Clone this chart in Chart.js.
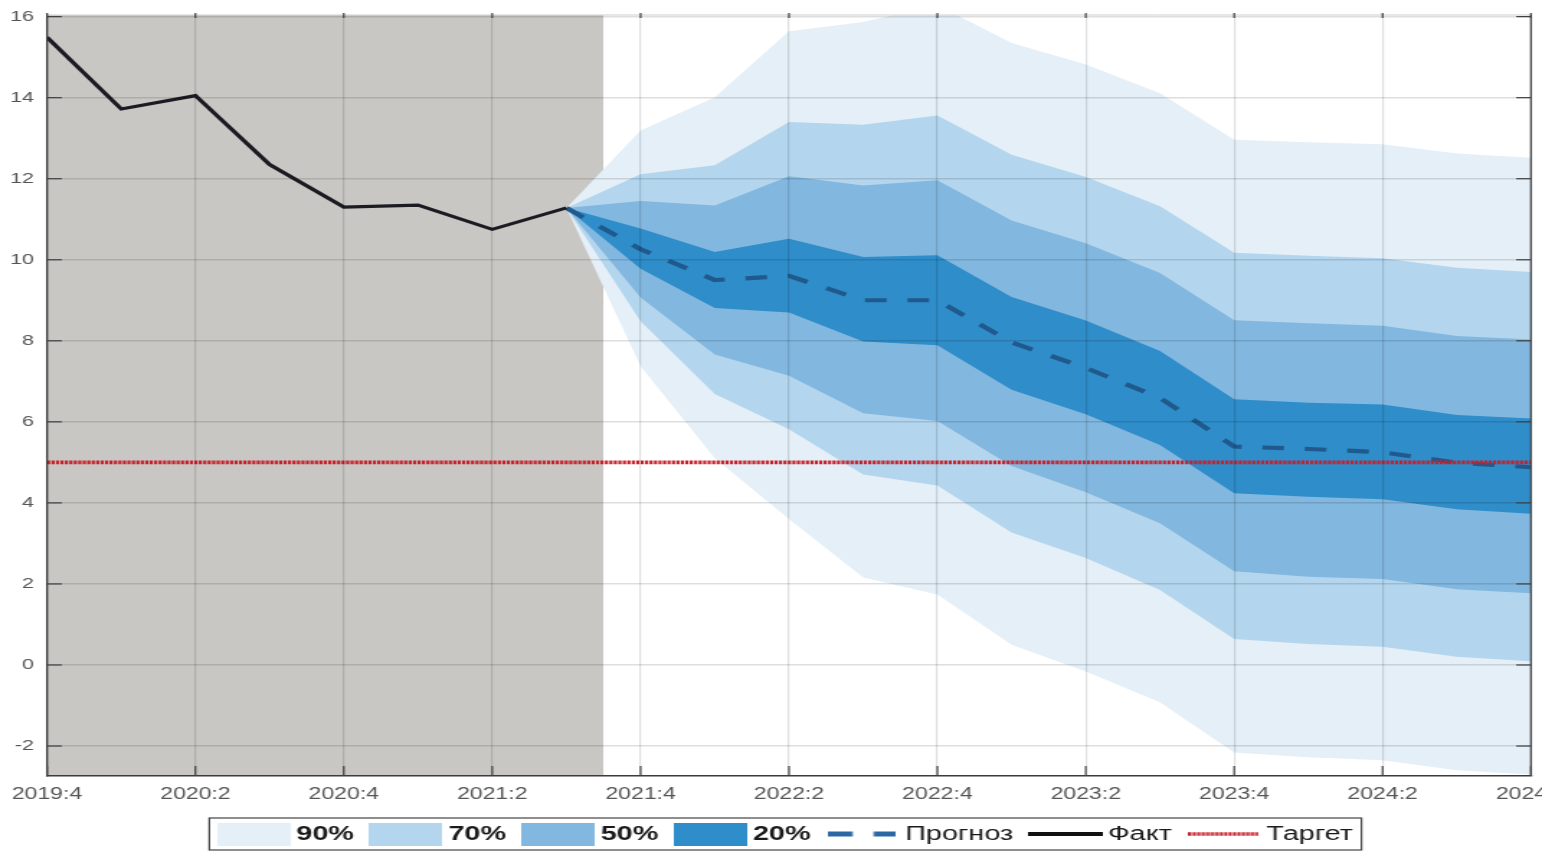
<!DOCTYPE html>
<html>
<head>
<meta charset="utf-8">
<script src="https://cdn.jsdelivr.net/npm/chart.js@4"></script>
<style>
html,body{margin:0;padding:0;background:#fff;overflow:hidden;}
#c{display:block;width:1542px !important;height:851px !important;}
</style>
</head>
<body>
<canvas id="c" width="1071" height="851" style="width:1542px;height:851px;"></canvas>
<script>
// ---------- DATA ----------
const quarters = ['2019:4','2020:1','2020:2','2020:3','2020:4','2021:1','2021:2','2021:3',
  '2021:4','2022:1','2022:2','2022:3','2022:4','2023:1','2023:2','2023:3','2023:4',
  '2024:1','2024:2','2024:3','2024:4'];

const factStart = 0;           // index of 2019:4
const fact = [15.49, 13.72, 14.05, 12.35, 11.30, 11.35, 10.75, 11.28];

const forecastStart = 7;       // index of 2021:3
const forecast = [11.28, 10.26, 9.50, 9.60, 9.00, 9.00, 7.96, 7.33, 6.59, 5.39, 5.33, 5.25, 4.99, 4.88];

const band90Upper = [11.28, 13.19, 14.01, 15.64, 15.87, 16.28, 15.35, 14.82, 14.11, 12.96, 12.90, 12.85, 12.62, 12.52];
const band70Upper = [11.28, 12.11, 12.33, 13.40, 13.33, 13.56, 12.59, 12.04, 11.32, 10.17, 10.10, 10.04, 9.80, 9.70];
const band50Upper = [11.28, 11.45, 11.34, 12.06, 11.83, 11.96, 10.97, 10.41, 9.67, 8.51, 8.43, 8.37, 8.12, 8.03];
const band20Upper = [11.28, 10.77, 10.19, 10.52, 10.07, 10.11, 9.08, 8.50, 7.75, 6.56, 6.47, 6.43, 6.17, 6.08];
const band20Lower = [11.28, 9.78, 8.81, 8.70, 7.98, 7.89, 6.79, 6.19, 5.43, 4.24, 4.15, 4.09, 3.84, 3.73];
const band50Lower = [11.28, 9.07, 7.66, 7.14, 6.21, 6.02, 4.91, 4.26, 3.50, 2.31, 2.18, 2.12, 1.87, 1.77];
const band70Lower = [11.28, 8.48, 6.69, 5.82, 4.70, 4.43, 3.27, 2.64, 1.85, 0.64, 0.52, 0.45, 0.20, 0.09];
const band90Lower = [11.28, 7.37, 5.10, 3.60, 2.16, 1.74, 0.50, -0.16, -0.92, -2.16, -2.28, -2.35, -2.60, -2.70];

const targetValue = 5;
const historyEnd = 7.5;        // shaded history period ends halfway into 2021:4
const yMin = -2.74, yMax = 16.04;
const yTickStep = 2, xTickStep = 2;

const legendLabels = ['90%', '70%', '50%', '20%', 'Прогноз', 'Факт', 'Таргет'];

// ---------- STYLE ----------
const colors = {
  band90: '#e4eff7', band70: '#b3d6ee', band50: '#82b7df', band20: '#2f8dca',
  shade: '#c8c7c4', fact: '#1b1b22', forecast: '#205a8d', target: '#c8202a',
  legendDash: '#2b67a5'
};
const FONT = "'Liberation Sans', Arial, sans-serif";
Chart.defaults.font.family = FONT;

const canvas = document.getElementById('c');
const ctx = canvas.getContext('2d');
// percent labels in the legend are bold, words regular
const boldTexts = ['90%', '70%', '50%', '20%'];
const origFillText = ctx.fillText;
ctx.fillText = function (text, x, y, maxWidth) {
  const args = maxWidth === undefined ? [text, x, y] : [text, x, y, maxWidth];
  if (boldTexts.includes(text)) {
    const f = this.font;
    this.font = 'bold ' + f.replace(/\b(bold|normal)\b\s*/g, '');
    origFillText.apply(this, args);
    this.font = f;
  } else {
    origFillText.apply(this, args);
  }
};

function makeIcon(w, h, drawFn) {
  const c = document.createElement('canvas');
  c.width = w; c.height = h;
  drawFn(c.getContext('2d'), w, h);
  return c;
}
const rectIcon = col => makeIcon(51, 23, (g, w, h) => { g.fillStyle = col; g.fillRect(0, 0, w, h); });
const lineIcon = (w, col, lw, dash) => makeIcon(w, 8, (g, W, H) => {
  g.strokeStyle = col; g.lineWidth = lw; g.setLineDash(dash);
  g.beginPath(); g.moveTo(0, H / 2); g.lineTo(W, H / 2); g.stroke();
});
const legendIcons = [
  rectIcon(colors.band90), rectIcon(colors.band70), rectIcon(colors.band50), rectIcon(colors.band20),
  lineIcon(47, colors.legendDash, 5, [16.7, 14.6]),
  lineIcon(52, '#111111', 4, []),
  lineIcon(49, colors.target, 3.5, [2.2, 0.9])
];

const toPoints = (arr, start) => arr.map((y, i) => ({ x: start + i, y }));

const datasets = [];
datasets.push({ label: 'Факт', data: toPoints(fact, factStart), borderColor: colors.fact,
  borderWidth: 3.2, fill: false, order: 0 });
datasets.push({ label: 'Таргет', data: [{ x: 0, y: targetValue }, { x: quarters.length - 1, y: targetValue }],
  borderColor: colors.target, borderWidth: 3.6, borderDash: [2.2, 0.9], fill: false, order: 1 });
datasets.push({ label: 'Прогноз', data: toPoints(forecast, forecastStart), borderColor: colors.forecast,
  borderWidth: 4.2, borderDash: [15, 14.5], fill: false, order: 2 });

const bands = [
  { name: '20%', upper: band20Upper, lower: band20Lower, color: colors.band20 },
  { name: '50%', upper: band50Upper, lower: band50Lower, color: colors.band50 },
  { name: '70%', upper: band70Upper, lower: band70Lower, color: colors.band70 },
  { name: '90%', upper: band90Upper, lower: band90Lower, color: colors.band90 }
];
bands.forEach((b, k) => {
  const idx = datasets.length;
  datasets.push({ label: b.name + ' upper', data: toPoints(b.upper, forecastStart), borderWidth: 0,
    borderColor: 'rgba(0,0,0,0)', backgroundColor: b.color, fill: idx + 1, order: 3 + k });
  datasets.push({ label: b.name + ' lower', data: toPoints(b.lower, forecastStart), borderWidth: 0,
    borderColor: 'rgba(0,0,0,0)', fill: false, order: 3 + k });
});
datasets.push({ label: 'history', data: [{ x: 0, y: yMax }, { x: historyEnd, y: yMax }], borderWidth: 0,
  borderColor: 'rgba(0,0,0,0)', backgroundColor: colors.shade, fill: 'start', order: 10 });

const framePlugin = {
  id: 'frame',
  afterDraw(chart) {
    const { ctx: g, chartArea: a, scales: { x, y } } = chart;
    const line = (x1, y1, x2, y2) => { g.beginPath(); g.moveTo(x1, y1); g.lineTo(x2, y2); g.stroke(); };
    g.save();
    g.strokeStyle = '#cfcfcf'; g.lineWidth = 1;
    line(a.left, a.top, a.right, a.top);
    g.strokeStyle = '#4a4a4a'; g.lineWidth = 1.3;
    line(a.right, a.top, a.right, a.bottom);
    g.strokeStyle = '#404040'; g.lineWidth = 1.2;
    y.ticks.forEach(t => {
      const py = y.getPixelForValue(t.value);
      line(a.left, py, a.left + 10.3, py);
      line(a.right - 10.3, py, a.right, py);
    });
    x.ticks.forEach(t => {
      const px = x.getPixelForValue(t.value);
      line(px, a.bottom, px, a.bottom - 10);
      line(px, a.top - 2, px, a.top + 3);
    });
    // legend frame
    const hb = chart.legend && chart.legend.legendHitBoxes;
    if (hb && hb.length) {
      const first = hb[0], last = hb[hb.length - 1];
      const x1 = first.left - 11, x2 = last.left + last.width + 6;
      const cy = first.top + first.height / 2;
      g.strokeStyle = '#444'; g.lineWidth = 1.2;
      g.strokeRect(x1, cy - 16, x2 - x1, 32);
    }
    g.restore();
  }
};

new Chart(ctx, {
  type: 'line',
  data: { datasets },
  options: {
    responsive: false,
    animation: false,
    events: [],
    parsing: true,
    elements: { point: { radius: 0, hoverRadius: 0 }, line: { tension: 0 } },
    layout: { padding: { top: 15, right: 7.65, bottom: 0, left: 0 } },
    scales: {
      x: {
        type: 'linear', min: 0, max: quarters.length - 1,
        afterFit(s) { s.paddingLeft = 0; s.paddingRight = 0; s.height = 31.7; },
        grid: { color: 'rgba(0,0,0,0.13)', lineWidth: 1.2, drawTicks: false, z: 1 },
        border: { display: true, color: '#3c3c3c', width: 1.5, z: 2 },
        ticks: {
          stepSize: xTickStep, autoSkip: false, maxRotation: 0, minRotation: 0, padding: 9,
          color: '#555', font: { size: 16, family: FONT },
          callback: v => quarters[v] ?? ''
        }
      },
      y: {
        type: 'linear', min: yMin, max: yMax,
        afterFit(s) { s.width = 32.64; s.paddingTop = 0; s.paddingBottom = 0; },
        grid: { color: 'rgba(0,0,0,0.13)', lineWidth: 1.5, drawTicks: false, z: 1 },
        border: { display: true, color: '#3c3c3c', width: 1.3, z: 2 },
        ticks: { stepSize: yTickStep, includeBounds: false, padding: 9, color: '#555',
          font: { size: 15, family: FONT } }
      }
    },
    plugins: {
      tooltip: { enabled: false },
      legend: {
        position: 'bottom', fullSize: false, maxHeight: 43.3,
        labels: {
          usePointStyle: true, pointStyleWidth: 39.4, boxHeight: 20, padding: 16.3,
          color: '#1a1a1a', font: { size: 20, family: FONT },
          generateLabels: () => legendLabels.map((text, i) => ({
            text, pointStyle: legendIcons[i], fillStyle: 'rgba(0,0,0,0)',
            strokeStyle: 'rgba(0,0,0,0)', lineWidth: 0, hidden: false,
            fontColor: '#1a1a1a', datasetIndex: i
          }))
        }
      }
    }
  },
  plugins: [framePlugin]
});
</script>
</body>
</html>
